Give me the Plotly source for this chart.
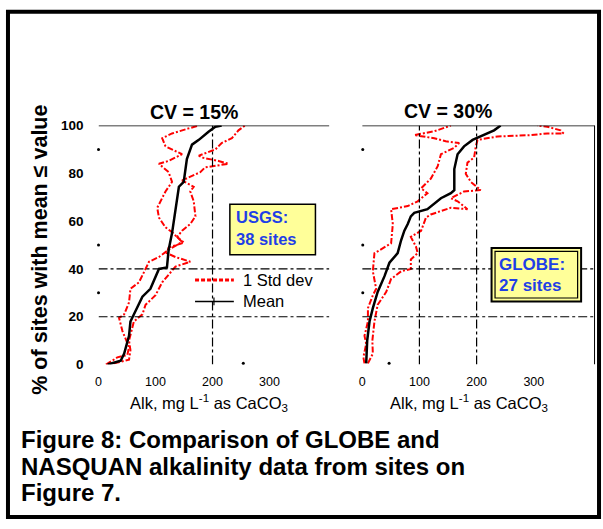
import plotly.graph_objects as go

# ---------------- data ----------------
# Left panel: CV = 15 %, USGS 38 sites
usgs_mean_x = [16, 39, 45, 53.5, 56, 62, 77, 91, 100, 106, 120, 123, 129, 135, 141, 149.5, 155, 164, 176, 193, 205, 216]
usgs_mean_y = [0, 1.6, 4.6, 12, 18, 21, 28.4, 31.7, 37, 40, 40.6, 48, 55, 65.6, 74.4, 76.4, 86, 92, 94, 97.4, 99.5, 100]

usgs_lo_x = [13, 33, 50.6, 53.5, 42, 36, 45, 53.5, 56, 71, 82.5, 88.5, 106, 123, 146.6, 129, 117.5, 106, 103, 108.7,
             117.5, 129, 123, 106, 123, 146.6, 117.5, 111.7, 129, 158, 176]
usgs_lo_y = [0, 3, 4, 7.3, 14, 19.5, 21, 26, 31.7, 34.4, 40, 43, 45, 48, 51.3, 55.4, 57.4, 61.5, 65.6, 68.3,
             72.4, 76.4, 80.5, 84, 85.2, 88, 91.3, 94.7, 96.7, 98.8, 100]

usgs_hi_x = [27, 53.5, 56, 53.5, 62, 77, 82.5, 100, 111.7, 123, 135, 161, 135, 120, 123, 150, 138, 146.6, 161, 170,
             167, 161, 167, 146.6, 164, 178.5, 187, 228, 210.6, 181.5, 176, 205, 216, 234, 245.5, 257]
usgs_hi_y = [0.5, 2, 6, 10, 18, 21, 25, 29, 34.4, 37.8, 41, 43, 45, 46.6, 49, 51, 53.4, 56, 58.8, 62,
             68.3, 72.4, 74.4, 77, 79, 80.5, 82.5, 84, 85.2, 86.6, 87.4, 90, 92.7, 94.7, 98, 100]

# Right panel: CV = 30 %, GLOBE 27 sites
globe_mean_x = [7, 8.7, 12.8, 18.6, 27, 39, 47.6, 62, 68, 73.7, 79.6, 85, 91, 114, 137.6, 155, 161, 161, 166.7, 178,
                193, 213, 230.5, 242]
globe_mean_y = [0.5, 10, 18, 23.6, 30.4, 37, 42.6, 46.6, 52, 56, 58.8, 62, 63.5, 65, 69.6, 71.7, 73, 81.8, 88, 91.3,
                94, 96, 98, 100]

globe_lo_x = [4, 2, 7, 4, 10, 10, 18.6, 24.4, 18.6, 21.4, 50.5, 53.5, 50.5, 79.6, 97, 114, 103, 120, 132, 137.6,
              161, 169.5, 146, 126, 91, 126, 155]
globe_lo_y = [0.5, 3, 8.7, 12, 18, 23.6, 29, 31.7, 39, 46.6, 50.7, 58.8, 65, 66.3, 68.3, 71.7, 73.7, 77.8, 83, 88,
              90.7, 92.7, 93.4, 94.7, 96, 97.6, 100]

globe_hi_x = [10, 18.6, 17.7, 21.4, 27, 42, 50.5, 68, 85, 85, 97, 94, 85, 103, 111.5, 120, 155, 184, 166.7, 155,
              178, 207, 190, 181, 184, 195.6, 198.6, 201.6, 236.4, 294, 323.5, 352, 346.7, 323.5, 306]
globe_hi_y = [0.5, 4.6, 10, 18, 25, 30.4, 35.8, 39, 40, 44, 46.6, 49.3, 53.4, 56, 61.5, 62.8, 65.6, 65, 68.3, 69.6,
              72.4, 73, 76.4, 79.8, 84.5, 86.6, 91.3, 94, 95.4, 96, 96.7, 96.7, 98, 99.5, 100]

y_ticks = [0, 20, 40, 60, 80, 100]
x_ticks = [0, 100, 200, 300]

W, H = 603, 529
FONT = "Liberation Sans, Arial, sans-serif"
RED = "#FF0000"
BLUE = "#1F3FE6"


def px(x):
    return x / W


def py(y):
    return 1 - y / H


fig = go.Figure()

red_line = dict(color=RED, width=2, dash="6px,2px,2px,2px")
black_line = dict(color="black", width=2.5)

fig.add_trace(go.Scatter(x=usgs_lo_x, y=usgs_lo_y, mode="lines", line=red_line, xaxis="x", yaxis="y"))
fig.add_trace(go.Scatter(x=usgs_hi_x, y=usgs_hi_y, mode="lines", line=red_line, xaxis="x", yaxis="y"))
fig.add_trace(go.Scatter(x=usgs_mean_x, y=usgs_mean_y, mode="lines", line=black_line, xaxis="x", yaxis="y"))

fig.add_trace(go.Scatter(x=globe_lo_x, y=globe_lo_y, mode="lines", line=red_line, xaxis="x2", yaxis="y2"))
fig.add_trace(go.Scatter(x=globe_hi_x, y=globe_hi_y, mode="lines", line=red_line, xaxis="x2", yaxis="y2"))
fig.add_trace(go.Scatter(x=globe_mean_x, y=globe_mean_y, mode="lines", line=black_line, xaxis="x2", yaxis="y2"))

# small leftover tick dots
fig.add_trace(go.Scatter(x=[0, 0, 0, 254], y=[30, 50, 90, 0.5], mode="markers",
                         marker=dict(color="black", size=3), xaxis="x", yaxis="y", cliponaxis=False))
fig.add_trace(go.Scatter(x=[1, 1, 1, 47], y=[30, 50, 90, 0.5], mode="markers",
                         marker=dict(color="black", size=3), xaxis="x2", yaxis="y2", cliponaxis=False))

ydom = [py(368), py(122)]
common_x = dict(showgrid=False, zeroline=False, showline=False, ticks="", tickvals=x_ticks,
                tickfont=dict(family=FONT, size=12.5, color="black"), ticklabelstandoff=8, fixedrange=True)
fig.update_layout(
    width=W, height=H, margin=dict(l=0, r=0, t=0, b=0),
    paper_bgcolor="white", plot_bgcolor="rgba(0,0,0,0)", showlegend=False,
    xaxis=dict(domain=[px(96), px(328)], range=[0, 405], anchor="y", **common_x),
    yaxis=dict(domain=ydom, range=[0, 100], anchor="x", showgrid=False, zeroline=False, showline=False,
               ticks="", tickvals=y_ticks, ticklabelstandoff=14,
               tickfont=dict(family=FONT, size=13.5, color="black", weight="bold")),
    xaxis2=dict(domain=[px(361), px(595)], range=[0, 407], anchor="y2", **common_x),
    yaxis2=dict(domain=ydom, range=[0, 100], anchor="x2", showgrid=False, zeroline=False, showline=False,
                showticklabels=False, ticks=""),
)

shapes = []
grid = dict(color="black", width=1.2, dash="dashdot")
for yv in (20, 40):
    shapes.append(dict(type="line", xref="x", yref="y", x0=0, x1=405, y0=yv, y1=yv, line=grid))
    shapes.append(dict(type="line", xref="x2", yref="y2", x0=0, x1=412, y0=yv, y1=yv, line=grid))
shapes.append(dict(type="line", xref="x", yref="y", x0=200, x1=200, y0=0, y1=100, line=grid))
for xv in (100, 200):
    shapes.append(dict(type="line", xref="x2", yref="y2", x0=xv, x1=xv, y0=0, y1=100, line=grid))
# top lines and right axis line
shapes.append(dict(type="line", xref="x", yref="y", x0=0, x1=405, y0=100, y1=100, line=dict(color="black", width=1.5)))
shapes.append(dict(type="line", xref="x2", yref="y2", x0=0, x1=407, y0=100, y1=100, line=dict(color="black", width=1.5)))
shapes.append(dict(type="line", xref="x2", yref="y2", x0=407, x1=407, y0=0, y1=100, line=dict(color="black", width=2)))

# legend sample lines
shapes.append(dict(type="line", xref="paper", yref="paper", x0=px(193), x1=px(232), y0=py(281), y1=py(281),
                   line=dict(color=RED, width=3, dash="4px,2px")))
shapes.append(dict(type="line", xref="paper", yref="paper", x0=px(193), x1=px(232), y0=py(303), y1=py(303),
                   line=dict(color="black", width=1.5)))
shapes.append(dict(type="line", xref="paper", yref="paper", x0=px(212), x1=px(212), y0=py(299), y1=py(307),
                   line=dict(color="black", width=1.2)))

# USGS box
shapes.append(dict(type="rect", xref="paper", yref="paper", x0=px(228), x1=px(314), y0=py(255), y1=py(203),
                   fillcolor="#FFFF99", line=dict(color="black", width=1.5)))
# GLOBE box (double border)
shapes.append(dict(type="rect", xref="paper", yref="paper", x0=px(491), x1=px(581), y0=py(303), y1=py(248),
                   fillcolor="#FFFF99", line=dict(color="black", width=2)))
shapes.append(dict(type="rect", xref="paper", yref="paper", x0=px(494.5), x1=px(577.5), y0=py(299.5), y1=py(251.5),
                   fillcolor="rgba(0,0,0,0)", line=dict(color="black", width=1.2)))

# outer frame
shapes.append(dict(type="rect", xref="paper", yref="paper", x0=px(5), x1=px(599), y0=py(525), y1=py(5),
                   line=dict(color="black", width=4)))
fig.update_layout(shapes=shapes)

ann = []


def text(x, y, s, size, bold=False, color="black", xanchor="left", angle=0):
    ann.append(dict(x=px(x), y=py(y), xref="paper", yref="paper", text=s, showarrow=False,
                    xanchor=xanchor, yanchor="middle", textangle=angle, borderpad=0,
                    font=dict(family=FONT, size=size, color=color, weight="bold" if bold else "normal")))


text(192, 108, "CV = 15%", 19.5, bold=True, xanchor="center")
text(447, 107, "CV = 30%", 19.5, bold=True, xanchor="center")
text(37, 250, "% of sites with mean ≤ value", 21.5, bold=True, xanchor="center", angle=-90)
text(207, 408, "Alk, mg L<sup>-1</sup> as CaCO<sub>3</sub>", 16.5, xanchor="center")
text(468, 408, "Alk, mg L<sup>-1</sup> as CaCO<sub>3</sub>", 16.5, xanchor="center")
text(240, 281, "1 Std dev", 16.5)
text(240, 303, "Mean", 16.5)
text(233, 216, "USGS:", 16.5, bold=True, color=BLUE)
text(233, 239, "38 sites", 16.5, bold=True, color=BLUE)
text(497, 265, "GLOBE:", 17, bold=True, color=BLUE)
text(497, 287, "27 sites", 17, bold=True, color=BLUE)
text(17, 445, "Figure 8: Comparison of GLOBE and", 24, bold=True)
text(17, 472.5, "NASQUAN alkalinity data from sites on", 24, bold=True)
text(17, 500, "Figure 7.", 24, bold=True)
fig.update_layout(annotations=ann)

fig.write_html("out.html")
